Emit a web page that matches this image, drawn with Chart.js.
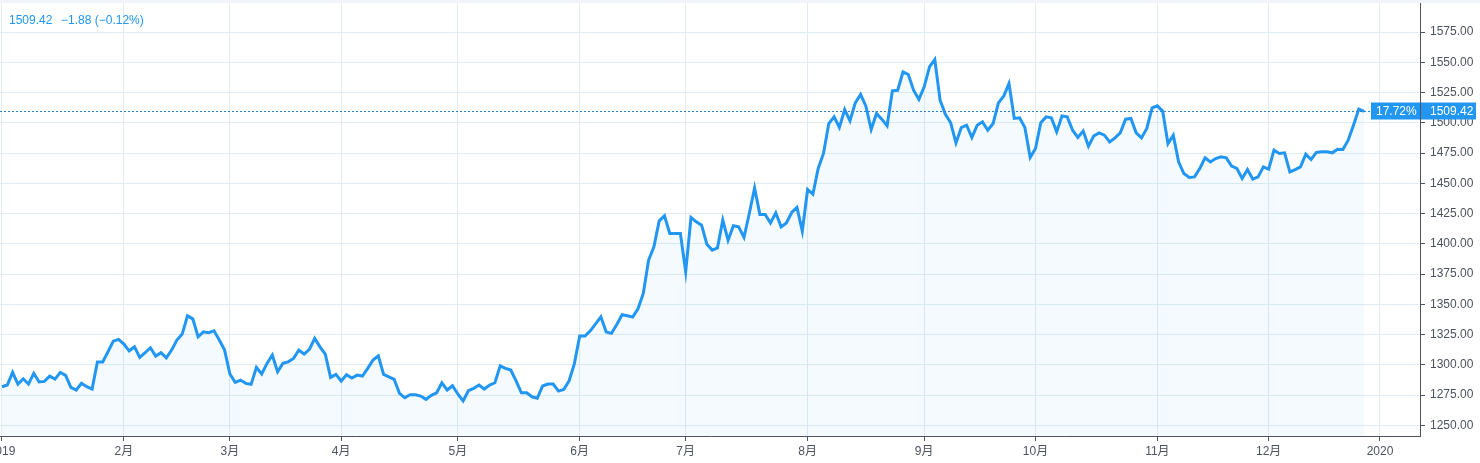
<!DOCTYPE html>
<html><head><meta charset="utf-8">
<script src="https://cdn.jsdelivr.net/npm/chart.js@4.4.0/dist/chart.umd.min.js"></script>
<style>html,body{margin:0;padding:0;background:#fff;overflow:hidden}#wrap{width:1480px;height:463px;position:relative}canvas{display:block}</style>
</head><body><div id="wrap"><canvas id="c" width="1480" height="463"></canvas></div>
<script>
// Daily gold price 2019 (one value per trading day)
const prices = [
1281.9,1283.3,1293.8,1284.1,1288.5,1284.1,1292.9,1285.8,1286.3,1290.7,
1288.2,1293.8,1291.3,1281.4,1279.2,1284.7,1281.9,1280.0,1302.3,1302.3,
1310.8,1319.6,1321.0,1317.2,1311.6,1314.9,1306.2,1310.0,1314.1,1307.2,
1310.0,1305.8,1312.2,1320.5,1325.4,1340.5,1338.0,1323.2,1327.3,1326.5,
1328.1,1320.5,1312.2,1292.4,1285.5,1287.4,1284.7,1283.9,1297.9,1292.4,
1301.2,1308.1,1294.3,1301.2,1302.5,1305.3,1312.2,1308.9,1312.8,1321.9,
1314.9,1308.9,1289.6,1292.1,1286.6,1291.8,1289.1,1291.5,1290.7,1297.1,
1303.9,1307.5,1292.1,1290.1,1288.0,1276.4,1272.8,1275.3,1275.3,1274.2,
1271.5,1274.8,1276.9,1285.2,1279.2,1282.7,1275.9,1270.1,1278.6,1280.6,
1283.3,1280.0,1283.3,1285.2,1299.2,1297.1,1295.7,1286.8,1276.9,1276.9,
1273.6,1272.5,1282.5,1284.1,1284.1,1278.3,1279.6,1286.8,1301.0,1323.8,
1323.8,1328.1,1333.9,1339.7,1327.1,1326.0,1333.4,1341.4,1340.5,1339.5,
1346.3,1359.0,1386.5,1397.5,1419.0,1423.1,1408.6,1408.6,1408.6,1376.9,
1421.8,1418.2,1415.4,1399.7,1394.8,1396.7,1419.6,1403.0,1414.9,1414.0,
1405.3,1425.1,1446.2,1424.3,1424.3,1417.3,1425.6,1414.0,1417.3,1425.9,
1430.1,1410.5,1444.9,1441.0,1462.3,1474.7,1499.4,1504.9,1496.1,1511.0,
1501.6,1516.5,1523.4,1513.7,1494.5,1507.7,1503.0,1497.5,1526.4,1526.9,
1542.0,1539.9,1526.9,1519.3,1529.7,1546.2,1552.3,1518.7,1507.1,1500.0,
1483.4,1496.1,1498.0,1487.9,1498.0,1500.8,1493.9,1499.4,1516.5,1522.0,
1532.5,1503.6,1504.1,1496.1,1471.4,1478.8,1500.0,1504.9,1504.1,1492.5,
1505.7,1504.9,1493.9,1487.9,1493.3,1480.7,1489.2,1491.7,1489.8,1484.2,
1487.5,1491.7,1503.0,1503.6,1491.7,1487.5,1495.3,1512.3,1514.0,1509.6,
1482.9,1489.8,1467.7,1458.1,1454.8,1455.3,1462.3,1471.0,1467.7,1470.5,
1471.9,1471.0,1464.2,1462.3,1454.0,1461.4,1453.4,1455.3,1463.6,1461.7,
1477.4,1474.7,1475.2,1459.5,1461.4,1463.6,1474.1,1469.7,1475.5,1476.0,
1476.0,1475.2,1478.2,1478.0,1485.6,1498.0,1511.3,1509.42
];
// month-start bar indices and their labels
const monthTickIndex = [0,23,43,64,86,109,129,152,174,195,218,239,260];
const monthTickLabels = ['2019','2月','3月','4月','5月','6月','7月','8月','9月','10月','11月','12月','2020'];
const priceTicks = [1250,1275,1300,1325,1350,1375,1400,1425,1450,1475,1500,1525,1550,1575];
const headerLast = '1509.42';
const headerChange = '−1.88 (−0.12%)';
const yearChangeLabel = '17.72%';

const FONT = "'Liberation Sans', 'Noto Sans CJK SC', sans-serif";
const BLUE = '#2196f3';
const AXIS = '#50535e';
const GRID = '#e1ecf2';
const TEXT = '#4c525e';

const points = prices.map((v, i) => ({x: i, y: v}));

const overlay = {
  id: 'overlay',
  beforeDraw(chart) {
    const ctx = chart.ctx;
    ctx.save();
    ctx.fillStyle = '#f0f3fa';
    ctx.fillRect(0, 0, chart.width, 3);
    ctx.restore();
  },
  afterDraw(chart) {
    const ctx = chart.ctx, ca = chart.chartArea, ys = chart.scales.y;
    const last = prices[prices.length - 1];
    const py = Math.round(ys.getPixelForValue(last)) + 0.5;
    ctx.save();
    // dotted last-price line
    ctx.strokeStyle = '#2b80cf';
    ctx.lineWidth = 1;
    ctx.setLineDash([2, 2]);
    ctx.beginPath();
    ctx.moveTo(ca.left, py);
    ctx.lineTo(ca.right, py);
    ctx.stroke();
    ctx.setLineDash([]);
    // price label boxes
    ctx.fillStyle = BLUE;
    ctx.fillRect(ca.right - 49, py - 9, 49, 17);
    ctx.fillRect(ca.right + 1, py - 9, 55, 17);
    ctx.fillStyle = '#ffffff';
    ctx.font = '12px ' + FONT;
    ctx.textBaseline = 'middle';
    ctx.textAlign = 'left';
    ctx.fillText(yearChangeLabel, ca.right - 44, py);
    ctx.fillText(last.toFixed(2), ca.right + 10, py);
    // header text
    ctx.fillStyle = BLUE;
    ctx.fillText(headerLast, 9, 21);
    ctx.fillText(headerChange, 61, 21);
    ctx.restore();
  }
};

new Chart(document.getElementById('c'), {
  type: 'line',
  data: {
    datasets: [{
      data: points,
      borderColor: BLUE,
      borderWidth: 3,
      backgroundColor: 'rgba(33,150,243,0.05)',
      fill: 'start',
      pointRadius: 0,
      tension: 0
    }]
  },
  options: {
    responsive: false,
    animation: false,
    devicePixelRatio: 1,
    layout: {padding: {top: 3, left: 0, right: 0, bottom: 0}},
    plugins: {legend: {display: false}, tooltip: {enabled: false}},
    scales: {
      x: {
        type: 'linear',
        min: -0.377,
        max: 267.55,
        afterBuildTicks: s => { s.ticks = monthTickIndex.map(v => ({value: v})); },
        afterFit: s => { s.height = 27; s.paddingLeft = 0; s.paddingRight = 0; },
        ticks: {
          autoSkip: false, maxRotation: 0, minRotation: 0, padding: 3,
          color: TEXT, font: {size: 12, family: FONT},
          callback: v => { const k = monthTickIndex.indexOf(v); return k >= 0 ? monthTickLabels[k] : ''; }
        },
        grid: {color: GRID, tickColor: AXIS, tickLength: 5},
        border: {color: AXIS, width: 1}
      },
      y: {
        position: 'right',
        min: 1241.2,
        max: 1599,
        afterBuildTicks: s => { s.ticks = priceTicks.map(v => ({value: v})); },
        afterFit: s => { s.width = 60; s.paddingTop = 0; s.paddingBottom = 0; },
        ticks: {
          padding: 5, color: TEXT, font: {size: 12, family: FONT},
          callback: v => Number(v).toFixed(2)
        },
        grid: {color: GRID, tickColor: AXIS, tickLength: 5},
        border: {color: AXIS, width: 1}
      }
    }
  },
  plugins: [overlay]
});
</script>
</body></html>
